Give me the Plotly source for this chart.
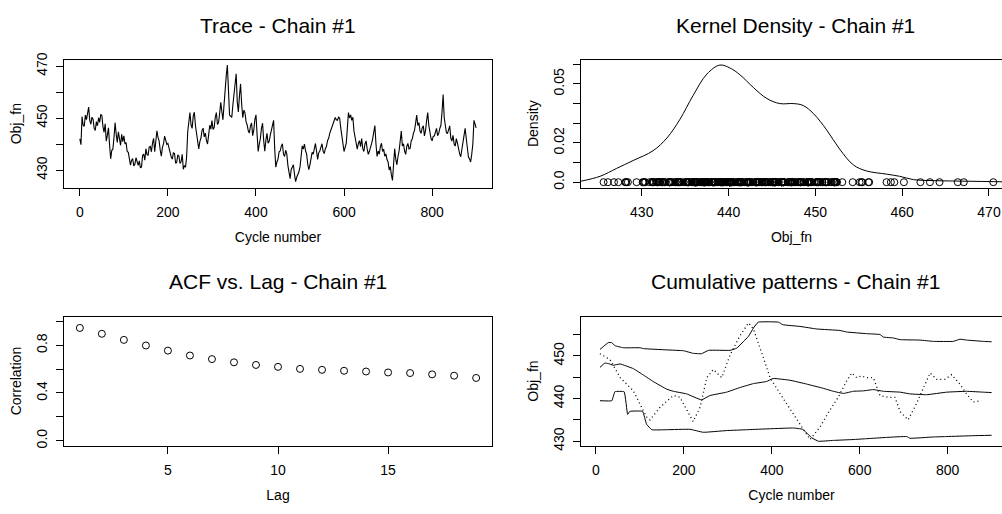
import plotly.graph_objects as go

# ---------------- data ----------------
obj_fn = [
    442.1, 439.8, 450.6, 447.3, 446.9, 451.2, 449.5, 451.8, 454.3, 449.2,
    447.7, 450.4, 449.6, 446.1, 445.3, 448.7, 447.1, 450.2, 448.4, 451.5,
    451.1, 446.8, 444.6, 447.9, 441.2, 443.5, 446.3, 439.8, 434.4, 437.6,
    438.2, 442.5, 448.3, 443.9, 440.7, 444.8, 442.2, 439.6, 443.8, 441.0,
    443.2, 440.1, 440.6, 437.2, 436.9, 433.4, 432.0, 433.9, 434.5, 431.7,
    432.3, 434.8, 433.2, 431.9, 433.6, 430.9, 431.3, 435.7, 436.2, 433.9,
    438.3, 436.0, 435.8, 438.9, 439.2, 437.1, 440.4, 442.3, 437.1, 441.5,
    445.2, 442.6, 441.3, 437.8, 435.4, 438.7, 440.2, 443.1, 441.8, 439.9,
    440.3, 438.4, 437.2, 435.1, 434.3, 436.8, 436.4, 432.7, 433.1, 435.9,
    435.4, 432.6, 433.3, 436.1, 430.4, 431.8, 431.2, 435.2, 444.8, 449.3,
    452.2, 447.4, 446.1, 450.8, 452.3, 447.2, 444.1, 439.6, 438.2, 441.0,
    442.4, 445.3, 446.2, 442.8, 444.3, 441.5, 440.1, 443.6, 447.3, 445.8,
    449.1, 445.7, 446.4, 450.3, 452.2, 447.6, 448.3, 451.9, 456.1, 452.5,
    449.4, 455.3, 462.1, 466.4, 470.5, 458.2, 451.2, 450.8, 450.3, 455.1,
    460.2, 464.3, 467.1, 456.2, 452.4, 458.7, 463.2, 455.4, 450.2, 453.1,
    452.1, 448.6, 447.4, 445.2, 444.3, 447.1, 448.2, 443.3, 445.4, 449.6,
    451.3, 443.8, 437.2, 440.1, 442.3, 446.2, 448.1, 441.4, 437.3, 441.6,
    444.2, 440.4, 441.1, 443.5, 445.1, 447.3, 449.2, 438.3, 431.2, 433.2,
    434.3, 437.1, 437.4, 439.3, 440.2, 436.1, 435.3, 437.7, 436.2, 431.8,
    428.1, 426.8, 430.3, 431.2, 432.1, 428.4, 425.6, 427.3, 428.2, 429.4,
    431.3, 436.2, 439.4, 438.1, 440.1, 437.5, 436.3, 432.4, 430.2, 432.1,
    434.4, 436.9, 436.2, 438.5, 440.3, 437.4, 434.2, 436.7, 437.4, 438.9,
    440.2, 437.3, 436.4, 438.3, 439.1, 441.4, 442.3, 444.2, 445.4, 446.3,
    447.2, 449.1, 450.3, 449.4, 449.2, 450.4, 450.1, 446.3, 443.2, 440.3,
    437.2, 438.8, 440.3, 446.1, 452.2, 450.1, 451.3, 449.2, 450.4, 445.1,
    442.3, 439.4, 438.1, 440.3, 441.4, 439.1, 442.2, 438.3, 437.2, 440.1,
    441.3, 438.2, 436.1, 437.3, 438.4, 440.2, 442.1, 444.3, 447.2, 440.1,
    435.3, 437.4, 436.2, 439.1, 440.4, 437.2, 438.1, 435.4, 436.3, 434.1,
    433.2, 430.1, 431.4, 428.2, 426.1, 432.4, 438.3, 434.2, 432.1, 435.3,
    437.4, 441.2, 445.1, 439.3, 440.2, 437.4, 436.1, 439.2, 440.3, 438.2,
    438.4, 441.3, 442.1, 444.2, 445.3, 448.1, 451.2, 447.2, 448.3, 445.1,
    444.2, 446.3, 447.1, 443.2, 445.2, 449.1, 452.2, 447.3, 444.1, 442.2,
    441.3, 443.1, 443.2, 445.4, 446.1, 443.3, 444.2, 446.1, 447.3, 452.4,
    459.1, 450.2, 446.1, 444.4, 444.2, 445.3, 447.1, 442.3, 441.2, 443.4,
    440.1, 439.3, 442.2, 440.4, 438.1, 436.3, 435.2, 438.1, 440.4, 443.2,
    446.1, 442.3, 438.2, 435.1, 434.3, 433.2, 436.2, 440.1, 449.2, 447.3,
    446.3,
]
cycles = [i * 2.5 for i in range(len(obj_fn))]

dens_x = [423.0, 425.2, 427.1, 429.0, 431.3, 432.9, 434.4, 435.9, 437.5, 439.0,
          440.2, 441.3, 442.9, 444.4, 445.9, 447.5, 448.6, 449.8, 451.3, 452.8,
          454.4, 455.9, 458.2, 459.7, 461.3, 463.6, 467.4, 471.5]
dens_y = [0.0005, 0.003, 0.007, 0.011, 0.016, 0.0225, 0.032, 0.044, 0.055, 0.0596,
          0.058, 0.0547, 0.048, 0.0426, 0.040, 0.040, 0.039, 0.0348, 0.0266, 0.0168,
          0.0087, 0.0057, 0.0041, 0.003, 0.0013, 0.0008, 0.0005, 0.0002]

lags = list(range(1, 20))
acf = [0.945, 0.896, 0.845, 0.798, 0.755, 0.714, 0.684, 0.657, 0.635, 0.619,
       0.602, 0.594, 0.586, 0.580, 0.572, 0.567, 0.556, 0.545, 0.526]

upper_x = [9, 28, 36, 43, 62, 100, 108, 161, 199, 221, 240, 256, 305, 320, 335, 347,
           358, 369, 415, 425, 464, 502, 555, 570, 616, 646, 654, 676, 692, 737,
           767, 813, 828, 843, 881, 900]
upper_y = [451.5, 453.1, 453.1, 452.4, 451.9, 451.9, 451.7, 451.4, 451.2, 450.6,
           450.5, 451.3, 451.3, 451.8, 453.3, 454.6, 456.5, 457.9, 457.9, 457.3,
           456.9, 456.3, 455.95, 455.6, 455.2, 455.0, 454.4, 454.2, 453.8, 453.7,
           453.4, 453.4, 453.9, 453.7, 453.4, 453.3]

median_x = [9, 20, 28, 39, 55, 85, 108, 130, 161, 176, 206, 240, 259, 297, 328, 358,
            388, 403, 441, 479, 517, 540, 563, 585, 608, 631, 654, 692, 714, 752,
            798, 843, 881, 900]
median_y = [447.3, 448.3, 448.2, 447.8, 448.1, 447.0, 445.5, 444.0, 442.2, 441.7,
            441.1, 439.7, 440.7, 441.5, 442.6, 443.5, 444.0, 444.7, 444.3, 443.4,
            442.4, 441.7, 441.2, 441.7, 441.8, 442.1, 441.7, 441.5, 441.1, 440.9,
            441.5, 441.7, 441.5, 441.4]

lower_x = [9, 36, 43, 64, 72, 77, 106, 115, 127, 161, 214, 244, 297, 343, 449, 470,
           491, 506, 540, 585, 616, 661, 707, 714, 767, 798, 858, 900]
lower_y = [439.5, 439.5, 441.6, 441.6, 436.3, 437.0, 437.0, 434.0, 432.7, 432.7,
           432.8, 432.1, 432.5, 432.7, 433.1, 432.8, 430.8, 430.0, 430.2, 430.4,
           430.6, 430.9, 431.1, 430.7, 431.0, 431.1, 431.3, 431.4]

mean_x = [9, 32, 55, 85, 115, 123, 146, 176, 191, 206, 221, 237, 252, 267, 286, 305,
          328, 347, 358, 381, 396, 419, 449, 472, 487, 510, 532, 551, 570, 582,
          593, 604, 616, 631, 646, 665, 680, 692, 710, 729, 748, 760, 775, 794,
          809, 828, 843, 858, 877]
mean_y = [450.5, 449.1, 444.9, 441.8, 435.7, 435.0, 438.0, 440.7, 440.3, 437.3,
          434.6, 438.0, 444.9, 446.8, 444.9, 450.2, 454.8, 457.7, 456.3, 449.5,
          444.9, 441.1, 436.5, 432.7, 430.4, 433.4, 437.3, 440.3, 444.1, 446.0,
          444.9, 445.3, 444.9, 444.9, 440.7, 440.3, 440.3, 436.9, 435.0, 438.8,
          443.4, 446.0, 444.5, 444.5, 445.6, 443.4, 441.1, 439.2, 439.5]

# ---------------- figure ----------------
W, H = 1002, 514
FONT = "Liberation Sans, Arial, Helvetica, sans-serif"


def px_x(p):
    return p / W


def px_y(p):
    return 1 - p / H


fig = go.Figure()

fig.add_trace(go.Scatter(x=cycles, y=obj_fn, mode="lines",
                         line=dict(color="black", width=1.1), xaxis="x", yaxis="y"))

fig.add_trace(go.Scatter(x=dens_x, y=dens_y, mode="lines", line_shape="spline",
                         line=dict(color="black", width=1), xaxis="x2", yaxis="y2"))
fig.add_trace(go.Scatter(x=obj_fn, y=[0] * len(obj_fn), mode="markers",
                         marker=dict(symbol="circle-open", size=7, color="black",
                                     line=dict(width=1, color="black")),
                         xaxis="x2", yaxis="y2"))

fig.add_trace(go.Scatter(x=lags, y=acf, mode="markers",
                         marker=dict(symbol="circle-open", size=7, color="black",
                                     line=dict(width=1, color="black")),
                         xaxis="x3", yaxis="y3"))

for xs, ys in [(upper_x, upper_y), (median_x, median_y), (lower_x, lower_y)]:
    fig.add_trace(go.Scatter(x=xs, y=ys, mode="lines", line_shape="spline",
                             line=dict(color="black", width=1, smoothing=0.3),
                             xaxis="x4", yaxis="y4"))
fig.add_trace(go.Scatter(x=mean_x, y=mean_y, mode="lines",
                         line=dict(color="black", width=1.3, dash="1px,3px"),
                         xaxis="x4", yaxis="y4"))

left_dom = [px_x(64), px_x(492)]
right_dom = [px_x(581), 1.0]
top_dom = [px_y(185), px_y(54)]
bot_dom = [px_y(449), px_y(317)]

tickfont = dict(family=FONT, size=14, color="black")
titlefont = dict(family=FONT, size=14, color="black")


def xax(dom, anchor, rng, tickvals, ticktext, title, mirror=True):
    return dict(domain=dom, anchor=anchor, range=rng, tickvals=tickvals, ticktext=ticktext,
                showgrid=False, zeroline=False, showline=True, linecolor="black", linewidth=1,
                mirror=mirror, ticks="outside", ticklen=7, tickcolor="black", tickwidth=1,
                tickfont=tickfont, ticklabelstandoff=5,
                title=dict(text=title, font=titlefont, standoff=12))


def yax(dom, anchor, rng, tickvals, ticktext, title, mirror=True):
    return dict(domain=dom, anchor=anchor, range=rng, tickvals=tickvals, ticktext=ticktext,
                showgrid=False, zeroline=False, showline=True, linecolor="black", linewidth=1,
                mirror=mirror, ticks="outside", ticklen=7, tickcolor="black", tickwidth=1,
                tickfont=tickfont, tickangle=-90, ticklabelstandoff=3,
                title=dict(text=title, font=titlefont, standoff=9))


fig.update_layout(
    width=W, height=H, margin=dict(l=0, r=0, t=0, b=0),
    paper_bgcolor="white", plot_bgcolor="white", showlegend=False,
    font=dict(family=FONT, color="black"),
    xaxis=xax(left_dom, "y", [-36, 936], [0, 200, 400, 600, 800],
              ["0", "200", "400", "600", "800"], "Cycle number"),
    yaxis=yax(top_dom, "x", [423.3, 472.5], [430, 440, 450, 460, 470],
              ["430", "", "450", "", "470"], "Obj_fn"),
    xaxis2=xax(right_dom, "y2", [423.0, 471.5], [430, 440, 450, 460, 470],
               ["430", "440", "450", "460", "470"], "Obj_fn"),
    yaxis2=yax(top_dom, "x2", [-0.0028, 0.0623], [0, 0.01, 0.02, 0.03, 0.04, 0.05, 0.06],
               ["0.0", "", "0.02", "", "", "0.05", ""], "Density", mirror=False),
    xaxis3=xax(left_dom, "y3", [0.28, 19.72], [5, 10, 15], ["5", "10", "15"], "Lag"),
    yaxis3=yax(bot_dom, "x3", [-0.04, 1.04], [0, 0.2, 0.4, 0.6, 0.8, 1.0],
               ["0.0", "", "0.4", "", "0.8", ""], "Correlation"),
    xaxis4=xax(right_dom, "y4", [-34.1, 923.6], [0, 200, 400, 600, 800],
               ["0", "200", "400", "600", "800"], "Cycle number"),
    yaxis4=yax(bot_dom, "x4", [429.0, 459.2], [430, 435, 440, 445, 450, 455],
               ["430", "", "440", "", "450", ""], "Obj_fn", mirror=False),
)

titles = [("Trace - Chain #1", (64 + 492) / 2, 18.5),
          ("Kernel Density - Chain #1", (581 + 1010) / 2, 18.5),
          ("ACF vs. Lag - Chain #1", (64 + 492) / 2, 281.5),
          ("Cumulative patterns - Chain #1", (581 + 1010) / 2, 281.5)]
for text, cx, cy in titles:
    fig.add_annotation(text=text, x=px_x(cx), y=px_y(cy), xref="paper", yref="paper",
                       xanchor="center", yanchor="middle", showarrow=False,
                       font=dict(family=FONT, size=21, color="black"))

fig.write_html("out.html")
